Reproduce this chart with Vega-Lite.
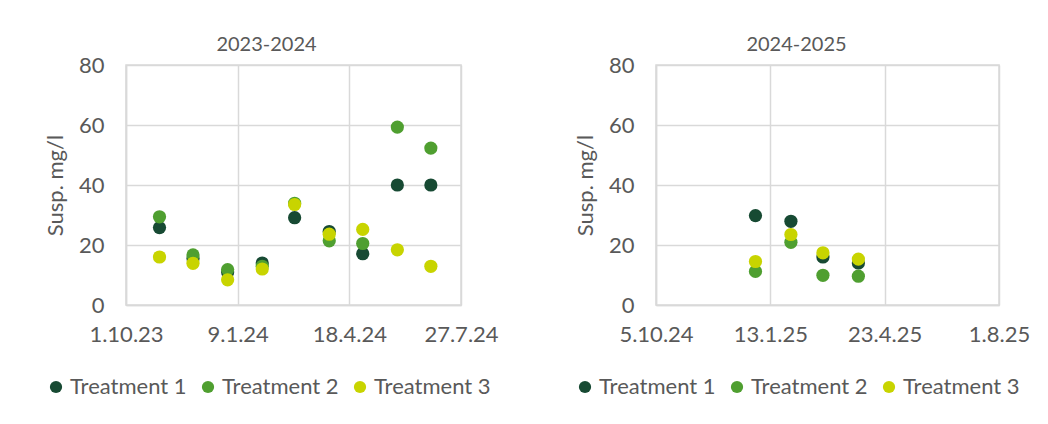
{
  "$schema": "https://vega.github.io/schema/vega-lite/v6.json",
  "autosize": {"type": "none"},
  "padding": {"left": 126, "top": 65, "right": 922, "bottom": 359},
  "background": "white",
  "bounds": "flush",
  "spacing": 195,
  "datasets": {
    "d": [
      {"season": "2023-2024", "date": "2023-10-31", "treatment": "Treatment 1", "value": 25.8},
      {"season": "2023-2024", "date": "2023-11-30", "treatment": "Treatment 1", "value": 15.5},
      {"season": "2023-2024", "date": "2023-12-31", "treatment": "Treatment 1", "value": 11.0},
      {"season": "2023-2024", "date": "2024-01-31", "treatment": "Treatment 1", "value": 14.0},
      {"season": "2023-2024", "date": "2024-02-29", "treatment": "Treatment 1", "value": 29.1},
      {"season": "2023-2024", "date": "2024-03-31", "treatment": "Treatment 1", "value": 24.5},
      {"season": "2023-2024", "date": "2024-04-30", "treatment": "Treatment 1", "value": 17.1},
      {"season": "2023-2024", "date": "2024-05-31", "treatment": "Treatment 1", "value": 40.0},
      {"season": "2023-2024", "date": "2024-06-30", "treatment": "Treatment 1", "value": 40.0},
      {"season": "2024-2025", "date": "2024-12-31", "treatment": "Treatment 1", "value": 29.8},
      {"season": "2024-2025", "date": "2025-01-31", "treatment": "Treatment 1", "value": 27.9},
      {"season": "2024-2025", "date": "2025-02-28", "treatment": "Treatment 1", "value": 16.0},
      {"season": "2024-2025", "date": "2025-03-31", "treatment": "Treatment 1", "value": 14.0},
      {"season": "2023-2024", "date": "2023-10-31", "treatment": "Treatment 2", "value": 29.4},
      {"season": "2023-2024", "date": "2023-11-30", "treatment": "Treatment 2", "value": 16.7},
      {"season": "2023-2024", "date": "2023-12-31", "treatment": "Treatment 2", "value": 11.8},
      {"season": "2023-2024", "date": "2024-01-31", "treatment": "Treatment 2", "value": 12.9},
      {"season": "2023-2024", "date": "2024-02-29", "treatment": "Treatment 2", "value": 33.9},
      {"season": "2023-2024", "date": "2024-03-31", "treatment": "Treatment 2", "value": 21.4},
      {"season": "2023-2024", "date": "2024-04-30", "treatment": "Treatment 2", "value": 20.5},
      {"season": "2023-2024", "date": "2024-05-31", "treatment": "Treatment 2", "value": 59.3},
      {"season": "2023-2024", "date": "2024-06-30", "treatment": "Treatment 2", "value": 52.3},
      {"season": "2024-2025", "date": "2024-12-31", "treatment": "Treatment 2", "value": 11.2},
      {"season": "2024-2025", "date": "2025-01-31", "treatment": "Treatment 2", "value": 20.9},
      {"season": "2024-2025", "date": "2025-02-28", "treatment": "Treatment 2", "value": 9.9},
      {"season": "2024-2025", "date": "2025-03-31", "treatment": "Treatment 2", "value": 9.6},
      {"season": "2023-2024", "date": "2023-10-31", "treatment": "Treatment 3", "value": 16.0},
      {"season": "2023-2024", "date": "2023-11-30", "treatment": "Treatment 3", "value": 13.9},
      {"season": "2023-2024", "date": "2023-12-31", "treatment": "Treatment 3", "value": 8.4},
      {"season": "2023-2024", "date": "2024-01-31", "treatment": "Treatment 3", "value": 12.0},
      {"season": "2023-2024", "date": "2024-02-29", "treatment": "Treatment 3", "value": 33.5},
      {"season": "2023-2024", "date": "2024-03-31", "treatment": "Treatment 3", "value": 23.6},
      {"season": "2023-2024", "date": "2024-04-30", "treatment": "Treatment 3", "value": 25.2},
      {"season": "2023-2024", "date": "2024-05-31", "treatment": "Treatment 3", "value": 18.4},
      {"season": "2023-2024", "date": "2024-06-30", "treatment": "Treatment 3", "value": 12.9},
      {"season": "2024-2025", "date": "2024-12-31", "treatment": "Treatment 3", "value": 14.5},
      {"season": "2024-2025", "date": "2025-01-31", "treatment": "Treatment 3", "value": 23.5},
      {"season": "2024-2025", "date": "2025-02-28", "treatment": "Treatment 3", "value": 17.4},
      {"season": "2024-2025", "date": "2025-03-31", "treatment": "Treatment 3", "value": 15.3}
    ]
  },
  "hconcat": [
    {
      "width": 335,
      "height": 240,
      "data": {"name": "d"},
      "title": {"text": "2023-2024", "dx": -27},
      "transform": [{"filter": "datum.season === '2023-2024'"}],
      "mark": {"type": "point", "filled": true, "size": 175, "opacity": 1, "strokeWidth": 0},
      "encoding": {
        "x": {
          "field": "date", "type": "temporal",
          "scale": {"type": "utc", "domain": [{"year": 2023, "month": 10, "date": 1, "utc": true}, {"year": 2024, "month": 7, "date": 27, "utc": true}]},
          "axis": {
            "title": null, "format": "%-d.%-m.%y",
            "values": [{"year": 2023, "month": 10, "date": 1, "utc": true}, {"year": 2024, "month": 1, "date": 9, "utc": true}, {"year": 2024, "month": 4, "date": 18, "utc": true}, {"year": 2024, "month": 7, "date": 27, "utc": true}]
          }
        },
        "y": {"field": "value", "type": "quantitative", "scale": {"domain": [0, 80]}, "axis": {"values": [0, 20, 40, 60, 80], "title": "Susp. mg/l"}},
        "color": {
          "field": "treatment", "type": "nominal",
          "scale": {"domain": ["Treatment 1", "Treatment 2", "Treatment 3"], "range": ["#174a33", "#4f9f30", "#c8d400"]},
          "legend": {"orient": "none", "legendX": -81, "legendY": 311, "direction": "horizontal", "title": null}
        }
      }
    },
    {
      "width": 343,
      "height": 240,
      "data": {"name": "d"},
      "title": {"text": "2024-2025", "dx": -31},
      "transform": [{"filter": "datum.season === '2024-2025'"}],
      "mark": {"type": "point", "filled": true, "size": 175, "opacity": 1, "strokeWidth": 0},
      "encoding": {
        "x": {
          "field": "date", "type": "temporal",
          "scale": {"type": "utc", "domain": [{"year": 2024, "month": 10, "date": 5, "utc": true}, {"year": 2025, "month": 8, "date": 1, "utc": true}]},
          "axis": {
            "title": null, "format": "%-d.%-m.%y",
            "values": [{"year": 2024, "month": 10, "date": 5, "utc": true}, {"year": 2025, "month": 1, "date": 13, "utc": true}, {"year": 2025, "month": 4, "date": 23, "utc": true}, {"year": 2025, "month": 8, "date": 1, "utc": true}]
          }
        },
        "y": {"field": "value", "type": "quantitative", "scale": {"domain": [0, 80]}, "axis": {"values": [0, 20, 40, 60, 80], "title": "Susp. mg/l"}},
        "color": {
          "field": "treatment", "type": "nominal",
          "scale": {"domain": ["Treatment 1", "Treatment 2", "Treatment 3"], "range": ["#174a33", "#4f9f30", "#c8d400"]},
          "legend": {"orient": "none", "legendX": -82, "legendY": 311, "direction": "horizontal", "title": null}
        }
      }
    }
  ],
  "resolve": {"scale": {"color": "independent", "x": "independent", "y": "independent"}, "legend": {"color": "independent"}},
  "config": {
    "font": "Lato",
    "title": {"fontSize": 20, "fontWeight": "normal", "color": "#595959", "font": "Lato", "offset": 13, "dy": 14, "baseline": "alphabetic", "anchor": "middle"},
    "axis": {
      "gridColor": "#d9d9d9", "gridWidth": 1.5, "grid": true,
      "domainColor": "#d9d9d9", "domainWidth": 1.5, "ticks": false,
      "labelColor": "#595959", "labelFontSize": 22, "labelFont": "Lato",
      "titleFont": "Lato", "titleFontSize": 22, "titleColor": "#595959", "titleFontWeight": "normal"
    },
    "axisX": {"labelPadding": 19, "labelFlush": false, "labelOverlap": false},
    "axisY": {"labelPadding": 22, "titlePadding": 11},
    "legend": {
      "labelFont": "Lato", "labelFontSize": 22, "labelColor": "#595959",
      "symbolType": "circle", "symbolSize": 150, "symbolStrokeWidth": 0,
      "labelOffset": 3, "columnPadding": 10
    },
    "view": {"stroke": "#d9d9d9", "strokeWidth": 1.5}
  }
}
